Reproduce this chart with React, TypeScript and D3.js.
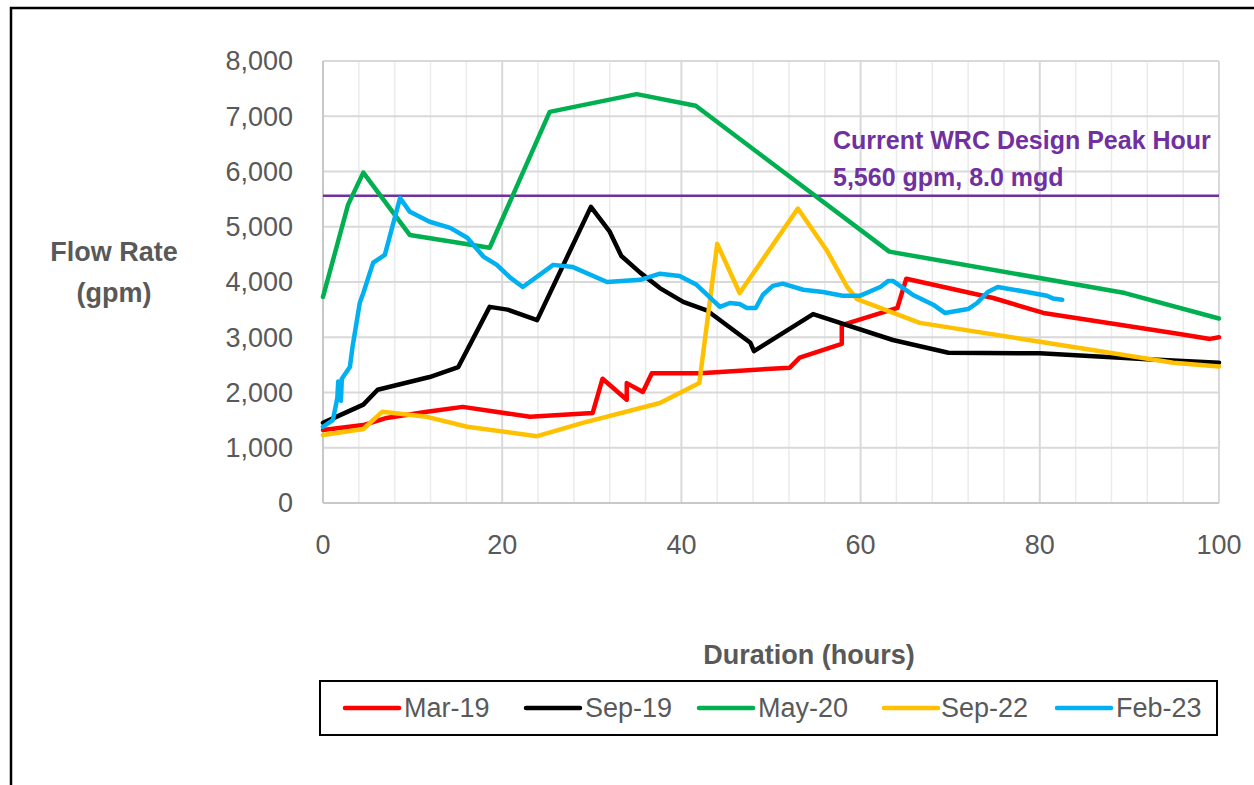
import React from "react";
import * as d3 from "d3";

const marX = [0, 4.5, 7.1, 11.6, 15.6, 23.1, 30.1, 31.2, 33.9, 33.9, 35.7, 36.7, 42.1, 52.1, 53.2, 57.9, 57.9, 64.1, 65.1, 74.8, 80.4, 95.6, 99, 100];
const marY = [1320, 1410, 1540, 1650, 1740, 1560, 1630, 2250, 1870, 2170, 2010, 2350, 2350, 2450, 2630, 2880, 3220, 3530, 4060, 3710, 3440, 3060, 2970, 3000];

const sep19X = [0, 4.5, 6.1, 11.9, 15.1, 18.6, 20.6, 23.9, 29.9, 32.0, 33.3, 35.4, 37.6, 40.2, 42.9, 47.7, 48.1, 54.7, 63.6, 69.8, 80, 92, 100];
const sep19Y = [1450, 1780, 2050, 2280, 2460, 3550, 3500, 3310, 5360, 4910, 4470, 4170, 3890, 3640, 3480, 2900, 2750, 3420, 2950, 2720, 2710, 2600, 2540];

const may20X = [0, 2.8, 4.5, 9.7, 18.6, 25.3, 35.0, 41.6, 63.2, 89.5, 100];
const may20Y = [3730, 5400, 5980, 4850, 4620, 7080, 7400, 7190, 4550, 3800, 3340];

const sep22X = [0, 4.5, 6.6, 11.6, 16.1, 23.9, 29, 37.6, 42, 44, 46.5, 53, 56.2, 58.5, 59.6, 66.6, 80, 94.9, 100];
const sep22Y = [1230, 1340, 1650, 1560, 1380, 1210, 1450, 1810, 2170, 4690, 3800, 5330, 4580, 3910, 3690, 3260, 2920, 2540, 2470];

const feb23X = [0, 1.1, 1.6, 1.7, 2.0, 2.1, 3.0, 3.3, 4.1, 4.5, 5.6, 6.9, 8.6, 9.7, 11.9, 14.2, 16.1, 17.9, 19.4, 20.9, 22.3, 25.7, 27.9, 31.7, 35.4, 37.6, 39.8, 41.7, 44.3, 45.4, 46.5, 47.3, 48.3, 49.1, 50.2, 51.3, 53.6, 55.8, 58.0, 59.9, 62.2, 63.1, 63.6, 65.8, 68.1, 69.4, 72.0, 73.0, 74.2, 75.3, 77.8, 80.8, 81.5, 82.5];
const feb23Y = [1380, 1500, 1900, 2200, 1850, 2250, 2460, 2830, 3620, 3800, 4350, 4490, 5520, 5270, 5090, 4980, 4800, 4460, 4310, 4080, 3910, 4310, 4270, 4000, 4040, 4150, 4110, 3950, 3550, 3620, 3600, 3530, 3530, 3770, 3930, 3970, 3860, 3820, 3750, 3750, 3910, 4020, 4020, 3770, 3590, 3440, 3510, 3620, 3820, 3910, 3840, 3750, 3700, 3680];

const seriesNames = ["Mar-19", "Sep-19", "May-20", "Sep-22", "Feb-23"];
const seriesColors = ["#FF0000", "#000000", "#00B050", "#FFC000", "#00B0F0"];
const seriesXs = [marX, sep19X, may20X, sep22X, feb23X];
const seriesYs = [marY, sep19Y, may20Y, sep22Y, feb23Y];

const xTicks = [0, 20, 40, 60, 80, 100];
const yTicks = [0, 1000, 2000, 3000, 4000, 5000, 6000, 7000, 8000];
const peakValue = 5560;
const peakLabel1 = "Current WRC Design Peak Hour";
const peakLabel2 = "5,560 gpm, 8.0 mgd";

const FONT = "'Liberation Sans', Arial, sans-serif";
const GRAY = "#595959";

export default function App() {
  const x = d3.scaleLinear().domain([0, 100]).range([323, 1219]);
  const y = d3.scaleLinear().domain([0, 8000]).range([503, 61]);
  const line = d3
    .line<[number, number]>()
    .x((d) => x(d[0]))
    .y((d) => y(d[1]));

  const minorX = d3.range(0, 101, 4).filter((v) => v % 20 !== 0);
  const fmt = d3.format(",");

  const legendLineX = [345, 526, 699, 884, 1057];
  const legendTextX = [404, 585, 758, 941, 1116];

  return (
    <svg
      width={1254}
      height={785}
      style={{ position: "absolute", left: 0, top: 0, background: "#fff" }}
    >
      <rect x={0} y={0} width={1254} height={785} fill="#fff" />
      <rect x={11} y={8} width={1300} height={900} fill="none" stroke="#000" strokeWidth={2.5} />

      {/* gridlines */}
      {minorX.map((v) => (
        <line key={"mx" + v} x1={x(v)} x2={x(v)} y1={y(8000)} y2={y(0)} stroke="#EBEBEB" strokeWidth={1.5} />
      ))}
      {xTicks.map((v) => (
        <line key={"gx" + v} x1={x(v)} x2={x(v)} y1={y(8000)} y2={y(0)} stroke="#D9D9D9" strokeWidth={2} />
      ))}
      {yTicks.map((v) => (
        <line key={"gy" + v} x1={x(0)} x2={x(100)} y1={y(v)} y2={y(v)} stroke="#D9D9D9" strokeWidth={2} />
      ))}
      <line x1={x(0)} x2={x(0)} y1={y(8000)} y2={y(0)} stroke="#C8C8C8" strokeWidth={2} />
      <line x1={x(0)} x2={x(100)} y1={y(0)} y2={y(0)} stroke="#C8C8C8" strokeWidth={2} />

      {/* tick labels */}
      {yTicks.map((v) => (
        <text key={"ty" + v} x={293} y={y(v)} dy="0.35em" textAnchor="end" fontFamily={FONT} fontSize={27} fill={GRAY}>
          {fmt(v)}
        </text>
      ))}
      {xTicks.map((v) => (
        <text key={"tx" + v} x={x(v)} y={545} dy="0.35em" textAnchor="middle" fontFamily={FONT} fontSize={27} fill={GRAY}>
          {v}
        </text>
      ))}

      {/* axis titles */}
      <text x={114} y={252} dy="0.35em" textAnchor="middle" fontFamily={FONT} fontSize={27} fontWeight="bold" fill={GRAY}>
        Flow Rate
      </text>
      <text x={114} y={293} dy="0.35em" textAnchor="middle" fontFamily={FONT} fontSize={27} fontWeight="bold" fill={GRAY}>
        (gpm)
      </text>
      <text x={809} y={655} dy="0.35em" textAnchor="middle" fontFamily={FONT} fontSize={27} fontWeight="bold" fill={GRAY}>
        Duration (hours)
      </text>

      {/* peak line */}
      <line x1={x(0)} x2={x(100)} y1={y(peakValue)} y2={y(peakValue)} stroke="#7030A0" strokeWidth={2.5} />
      <text x={833} y={140} dy="0.35em" fontFamily={FONT} fontSize={25} fontWeight="bold" fill="#7030A0">
        {peakLabel1}
      </text>
      <text x={833} y={177} dy="0.35em" fontFamily={FONT} fontSize={25} fontWeight="bold" fill="#7030A0">
        {peakLabel2}
      </text>

      {/* series */}
      {seriesNames.map((name, i) => {
        const pts: [number, number][] = seriesXs[i].map((xv, j) => [xv, seriesYs[i][j]]);
        return (
          <path
            key={name}
            d={line(pts) || ""}
            fill="none"
            stroke={seriesColors[i]}
            strokeWidth={4.5}
            strokeLinejoin="round"
            strokeLinecap="round"
          />
        );
      })}

      {/* legend */}
      <rect x={320} y={681} width={897} height={54} fill="#fff" stroke="#000" strokeWidth={2} />
      {seriesNames.map((name, i) => (
        <g key={"lg" + name}>
          <line x1={legendLineX[i]} x2={legendLineX[i] + 54} y1={708} y2={708} stroke={seriesColors[i]} strokeWidth={4.5} strokeLinecap="round" />
          <text x={legendTextX[i]} y={708} dy="0.35em" fontFamily={FONT} fontSize={27} fill={GRAY}>
            {name}
          </text>
        </g>
      ))}
    </svg>
  );
}
